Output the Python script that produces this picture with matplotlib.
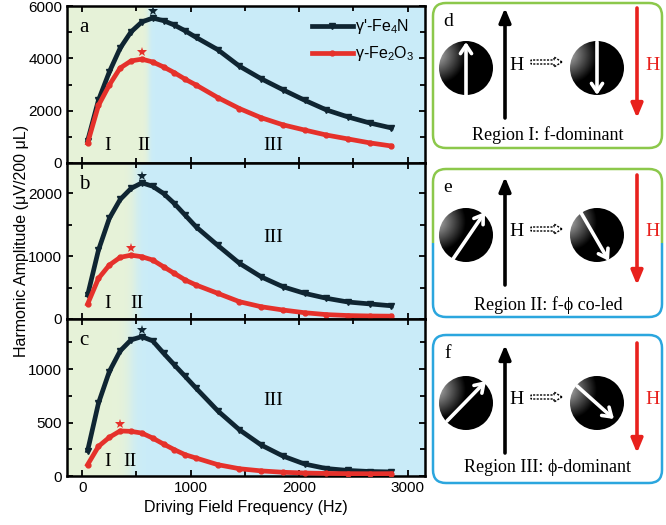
import numpy as np
import matplotlib
matplotlib.use("Agg")
import matplotlib.pyplot as plt
import matplotlib.patches as mpatches
from matplotlib.ticker import MultipleLocator

plt.rcParams['font.family'] = ['Liberation Sans', 'DejaVu Sans']
plt.rcParams['mathtext.fontset'] = 'custom'
plt.rcParams['mathtext.rm'] = 'Liberation Sans'
plt.rcParams['mathtext.it'] = 'Liberation Sans:italic'

SERIF = ['Liberation Serif', 'DejaVu Serif']

# driving frequencies (Hz)
freq = [50, 150, 250, 350, 450, 550, 650, 750, 850, 950, 1050,
        1250, 1450, 1650, 1850, 2050, 2250, 2450, 2650, 2850]

# panel a
fe4n_a = [850, 2400, 3480, 4390, 5010, 5390, 5540, 5440, 5270, 5050, 4800,
          4330, 3700, 3220, 2800, 2400, 2030, 1760, 1530, 1340]
fe2o3_a = [760, 2200, 2980, 3630, 3900, 3970, 3860, 3670, 3450, 3200, 2980,
           2500, 2080, 1730, 1460, 1260, 1070, 920, 770, 650]
# panel b
fe4n_b = [380, 1095, 1600, 1900, 2075, 2165, 2110, 1995, 1835, 1650, 1465,
          1170, 885, 670, 513, 408, 330, 270, 240, 210]
fe2o3_b = [238, 645, 857, 980, 1015, 990, 937, 830, 725, 620, 540,
           408, 275, 195, 143, 100, 70, 55, 48, 45]
# panel c
fe4n_c = [237, 682, 978, 1171, 1274, 1305, 1265, 1150, 1040, 932, 822,
          610, 432, 290, 187, 112, 70, 52, 42, 38]
fe2o3_c = [106, 277, 362, 422, 418, 402, 355, 299, 246, 199, 168,
           106, 68, 48, 35, 28, 24, 22, 21, 22]

panels = [
    dict(letter='a', n=fe4n_a, o=fe2o3_a, ymax=6000, major=2000, minor=1000,
         split=610, blend=15, regions=[('I', 230, 650), ('II', 570, 650), ('III', 1760, 650)]),
    dict(letter='b', n=fe4n_b, o=fe2o3_b, ymax=2480, major=1000, minor=500,
         split=490, blend=30, regions=[('I', 230, 250), ('II', 500, 250), ('III', 1760, 1300)]),
    dict(letter='c', n=fe4n_c, o=fe2o3_c, ymax=1470, major=500, minor=250,
         split=445, blend=35, regions=[('I', 230, 140), ('II', 440, 140), ('III', 1760, 710)]),
]

black_col = '#0f2532'
red_col = '#e5312b'
green_bg = np.array([0.905, 0.950, 0.850])
blue_bg = np.array([0.790, 0.925, 0.975])

fig = plt.figure(figsize=(6.66, 5.25), dpi=100)

W, H = 666.0, 525.0
left_px, right_px = 67, 425
rows = [(6, 163), (163, 319), (319, 476)]
xmin, xmax = -140, 3160

axes = []
for p, (top, bot) in zip(panels, rows):
    ax = fig.add_axes([left_px / W, (H - bot) / H, (right_px - left_px) / W, (bot - top) / H])
    axes.append(ax)
    xs = np.linspace(xmin, xmax, 600)
    t = 1 / (1 + np.exp(-(xs - p['split']) / p['blend']))
    grad = green_bg[None, :] * (1 - t[:, None]) + blue_bg[None, :] * t[:, None]
    ax.imshow(grad[None, :, :], extent=[xmin, xmax, 0, p['ymax']], aspect='auto', zorder=0)

    ax.plot(freq, p['n'], color=black_col, lw=3.4, marker='v', ms=4, zorder=3,
            label="γ'-Fe$_4$N")
    ax.plot(freq, p['o'], color=red_col, lw=3.4, marker='o', ms=3.5, zorder=3,
            label="γ-Fe$_2$O$_3$")

    # peak stars
    star_off = 0.045 * p['ymax']
    i_n = int(np.argmax(p['n']))
    i_o = int(np.argmax(p['o']))
    ax.plot(freq[i_n], p['n'][i_n] + star_off, marker='*', color=black_col, ms=7,
            mew=0, zorder=4, clip_on=False)
    ax.plot(freq[i_o], p['o'][i_o] + star_off, marker='*', color=red_col, ms=7,
            mew=0, zorder=4, clip_on=False)

    for lab, x, y in p['regions']:
        ax.text(x, y, lab, family=SERIF, fontsize=14, ha='center', va='center', zorder=5)
    ax.text(0.033, 0.86, p['letter'], transform=ax.transAxes, family=SERIF,
            fontsize=15, ha='left', va='center', zorder=5)

    ax.set_xlim(xmin, xmax)
    ax.set_ylim(0, p['ymax'])
    ax.xaxis.set_major_locator(MultipleLocator(1000))
    ax.xaxis.set_minor_locator(MultipleLocator(500))
    ax.yaxis.set_major_locator(MultipleLocator(p['major']))
    ax.yaxis.set_minor_locator(MultipleLocator(p['minor']))
    ax.tick_params(which='both', direction='in', top=True, right=True, width=1.3,
                   labelsize=11)
    ax.tick_params(which='major', length=4)
    ax.tick_params(which='minor', length=3.5)
    for s in ax.spines.values():
        s.set_linewidth(1.8)
    if p['letter'] != 'c':
        ax.tick_params(labelbottom=False)

axes[0].legend(loc='upper right', bbox_to_anchor=(1.0, 1.0), frameon=False, fontsize=11.5,
               handlelength=2.6, handletextpad=0.1, labelspacing=0.5, borderaxespad=0.3)
axes[2].set_xlabel('Driving Field Frequency (Hz)', fontsize=11.5, labelpad=4)
fig.text(0.033, 1 - 241 / H, 'Harmonic Amplitude (μV/200 μL)', rotation=90,
         fontsize=11.5, ha='center', va='center')

# schematic panels d-f, drawn in pixel coordinates
axr = fig.add_axes([430 / W, 0, (W - 430) / W, 1])
axr.set_xlim(430, 666)
axr.set_ylim(525, 0)
axr.axis('off')

green_edge = '#8cc84b'
blue_edge = '#2ba6de'

uu, vv = np.meshgrid(np.linspace(-1, 1, 120), np.linspace(-1, 1, 120))
shade = 0.7 * np.clip(1 - np.hypot(uu + 1.1, vv + 0.5) / 1.1, 0, 1)


def sphere(cx, cy, start, end, r=27):
    circ = mpatches.Circle((cx, cy), r, transform=axr.transData, fc='none', ec='none')
    axr.add_patch(circ)
    im = axr.imshow(shade, cmap='gray', vmin=0, vmax=1, extent=[cx - r, cx + r, cy + r, cy - r],
                    zorder=2, interpolation='bilinear')
    im.set_clip_path(circ)
    axr.annotate('', xy=end, xytext=start, zorder=3,
                 arrowprops=dict(arrowstyle='->, head_length=0.6, head_width=0.4',
                                 color='white', lw=2.6, shrinkA=0, shrinkB=0))


def field_arrow(x, y_tail, y_head, color):
    axr.annotate('', xy=(x, y_head), xytext=(x, y_tail), zorder=3,
                 arrowprops=dict(arrowstyle='-|>, head_length=0.6, head_width=0.25',
                                 color=color, lw=2.6, shrinkA=0, shrinkB=0,
                                 mutation_scale=14))


def box(y0, y1, top_col, bot_col):
    for col, cy0, cy1 in [(top_col, 0, (y0 + y1) / 2), (bot_col, (y0 + y1) / 2, 525)]:
        b = mpatches.FancyBboxPatch((433, y0), 229, y1 - y0,
                                    boxstyle='round,pad=0,rounding_size=13',
                                    fc='white', ec=col, lw=1.8, zorder=1)
        axr.add_patch(b)
        clip = mpatches.Rectangle((420, cy0), 260, cy1 - cy0, transform=axr.transData)
        b.set_clip_path(clip)


boxes = [
    dict(y0=3, y1=148, top=green_edge, bot=green_edge, letter='d', cy=68,
         left=((466, 95), (466, 42)), right=((597, 42), (597, 95)),
         hb=(118, 8), hr=(8, 118), caption='Region I: f-dominant', cap_y=135),
    dict(y0=169, y1=317, top=green_edge, bot=blue_edge, letter='e', cy=235,
         left=((453, 259), (485, 212)), right=((580, 211), (609, 261)),
         hb=(285, 177), hr=(175, 285), caption='Region II: f-ϕ co-led', cap_y=305),
    dict(y0=335, y1=483, top=blue_edge, bot=blue_edge, letter='f', cy=403,
         left=((447, 421), (486, 381)), right=((577, 386), (614, 419)),
         hb=(453, 345), hr=(343, 453), caption='Region III: ϕ-dominant', cap_y=468),
]

for bx in boxes:
    box(bx['y0'], bx['y1'], bx['top'], bx['bot'])
    axr.text(448, bx['y0'] + 19, bx['letter'], family=SERIF, fontsize=14,
             ha='center', va='center', zorder=4)
    sphere(466, bx['cy'], *bx['left'])
    sphere(597, bx['cy'], *bx['right'])
    field_arrow(505, bx['hb'][0], bx['hb'][1], 'black')
    field_arrow(637, bx['hr'][0], bx['hr'][1], '#e8211d')
    axr.text(517, bx['cy'] - 3, 'H', family=SERIF, fontsize=14, ha='center', va='center', zorder=4)
    axr.text(653, bx['cy'] - 3, 'H', family=SERIF, fontsize=14, color='#e8211d',
             ha='center', va='center', zorder=4)
    axr.add_patch(mpatches.FancyArrow(531, bx['cy'] - 6, 31, 0, width=4, head_width=10,
                                      head_length=8, length_includes_head=True, fc='white',
                                      ec='black', lw=1.0, ls=(0, (1.5, 1)), zorder=3))
    axr.text(548, bx['cap_y'], bx['caption'], family=SERIF, fontsize=13,
             ha='center', va='center', zorder=4)

fig.savefig('out.png', dpi=100)
